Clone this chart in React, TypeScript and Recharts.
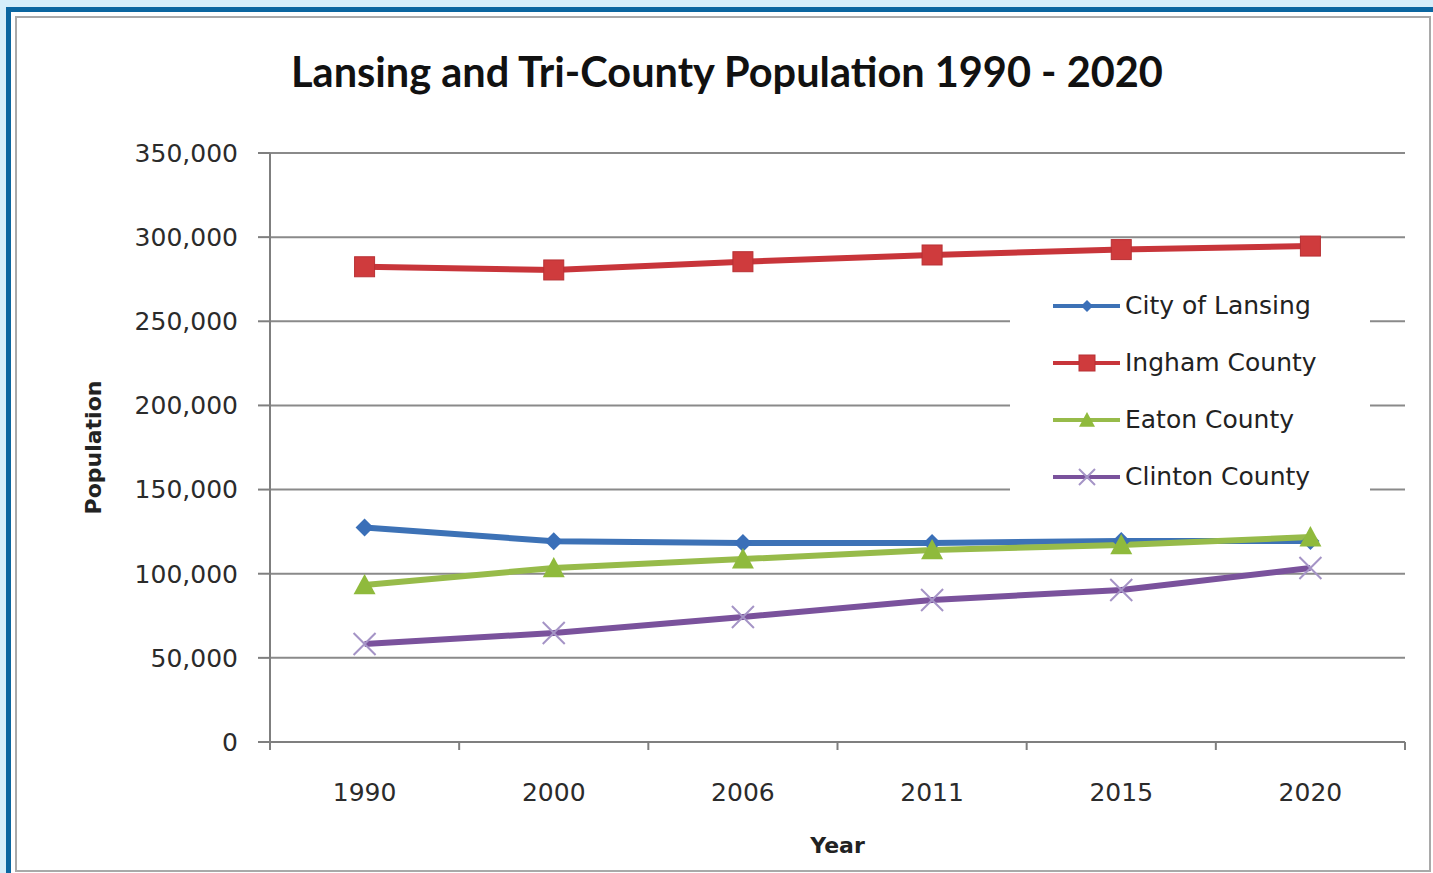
import { LineChart, Line, XAxis, YAxis, CartesianGrid, Legend } from 'recharts';

const years = ['1990', '2000', '2006', '2011', '2015', '2020'];
const cityOfLansing = [127500, 119300, 118300, 118300, 119500, 119500];
const inghamCounty = [282400, 280500, 285400, 289400, 292600, 294700];
const eatonCounty = [93300, 103400, 108700, 114100, 117100, 121800];
const clintonCounty = [58200, 64800, 74300, 84400, 90300, 103400];
const yTicks = [0, 50000, 100000, 150000, 200000, 250000, 300000, 350000];

const data = years.map((year, i) => ({
  year,
  lansing: cityOfLansing[i],
  ingham: inghamCounty[i],
  eaton: eatonCounty[i],
  clinton: clintonCounty[i],
}));

type Shape = 'diamond' | 'square' | 'triangle' | 'x';

const series: { key: string; name: string; color: string; markColor: string; shape: Shape }[] = [
  { key: 'lansing', name: 'City of Lansing', color: '#3d72b6', markColor: '#3a6fb8', shape: 'diamond' },
  { key: 'ingham', name: 'Ingham County', color: '#c8353a', markColor: '#cf3b3d', shape: 'square' },
  { key: 'eaton', name: 'Eaton County', color: '#97bb4a', markColor: '#8fba3c', shape: 'triangle' },
  { key: 'clinton', name: 'Clinton County', color: '#7a529c', markColor: '#a594c6', shape: 'x' },
];

const W = 1433;
const H = 873;
const FONT = '"DejaVu Sans", Verdana, sans-serif';
const X_TICK_SIZE = 8;
const X_TICK_MARGIN = 33;
const PLOT_LEFT = 270;
const PLOT_RIGHT = 28;
const HALF_BAND = (W - PLOT_LEFT - PLOT_RIGHT) / years.length / 2;

function Marker({ cx, cy, shape, color, s }: { cx?: number; cy?: number; shape: Shape; color: string; s: number }) {
  if (cx == null || cy == null) return null;
  if (shape === 'diamond') {
    return <path d={`M${cx},${cy - s}L${cx + s},${cy}L${cx},${cy + s}L${cx - s},${cy}Z`} fill={color} />;
  }
  if (shape === 'square') {
    return <rect x={cx - s} y={cy - s} width={s * 2} height={s * 2} fill={color} stroke="#b83034" strokeWidth={1} />;
  }
  if (shape === 'triangle') {
    return <path d={`M${cx},${cy - s}L${cx + s},${cy + s * 0.85}L${cx - s},${cy + s * 0.85}Z`} fill={color} />;
  }
  return (
    <path
      d={`M${cx - s},${cy - s}L${cx + s},${cy + s}M${cx + s},${cy - s}L${cx - s},${cy + s}`}
      stroke={color}
      strokeWidth={2}
      fill="none"
    />
  );
}

const plotSize: Record<Shape, number> = { diamond: 9, square: 10, triangle: 11, x: 11 };
const legendSize: Record<Shape, number> = { diamond: 6, square: 8, triangle: 8, x: 8 };

function XTick(props: any) {
  const { x, y, payload, index } = props;
  const top = y - X_TICK_MARGIN - X_TICK_SIZE;
  const last = index === years.length - 1;
  return (
    <g>
      <line x1={x - HALF_BAND} x2={x - HALF_BAND} y1={top} y2={top + X_TICK_SIZE} stroke="#7f7f7f" strokeWidth={2} />
      {last && (
        <line x1={x + HALF_BAND} x2={x + HALF_BAND} y1={top} y2={top + X_TICK_SIZE} stroke="#7f7f7f" strokeWidth={2} />
      )}
      <text x={x} y={y} dy="0.71em" textAnchor="middle" fill="#2b2b2b" fontSize={25} fontFamily={FONT}>
        {payload.value}
      </text>
    </g>
  );
}

function ChartLegend() {
  return (
    <div style={{ background: '#fff', paddingLeft: 43 }}>
      {series.map((s) => (
        <div key={s.key} style={{ height: 57, display: 'flex', alignItems: 'center' }}>
          <svg width={72} height={30} style={{ display: 'block' }}>
            <line x1={0} x2={67} y1={15} y2={15} stroke={s.color} strokeWidth={4} />
            <Marker cx={34} cy={15} shape={s.shape} color={s.markColor} s={legendSize[s.shape]} />
          </svg>
          <span style={{ fontFamily: FONT, fontSize: 25, color: '#222', whiteSpace: 'nowrap' }}>{s.name}</span>
        </div>
      ))}
    </div>
  );
}

export default function App() {
  return (
    <div style={{ position: 'absolute', left: 0, top: 0, width: W, height: H, background: '#d6eefa', overflow: 'hidden' }}>
      <div
        style={{
          position: 'absolute',
          left: 6,
          top: 7,
          width: W + 20,
          height: H + 20,
          background: '#fff',
          borderTop: '5px solid #0b66a0',
          borderLeft: '5px solid #0b66a0',
        }}
      />
      <div
        style={{
          position: 'absolute',
          left: 15,
          top: 16,
          width: 1416,
          height: 856,
          border: '2px solid #a9a9a9',
          boxSizing: 'border-box',
        }}
      />
      <div
        style={{
          position: 'absolute',
          left: 227,
          top: 51,
          width: 1000,
          textAlign: 'center',
          fontFamily: 'Lato, sans-serif',
          fontWeight: 700,
          fontSize: 41.5,
          lineHeight: '40px',
          color: '#111',
          whiteSpace: 'nowrap',
        }}
      >
        Lansing and Tri-County Population 1990 - 2020
      </div>
      <div style={{ position: 'absolute', left: 0, top: 0 }}>
        <LineChart width={W} height={H} data={data} margin={{ top: 153, right: PLOT_RIGHT, left: 70, bottom: 20 }}>
          <CartesianGrid vertical={false} stroke="#8a8a8a" strokeWidth={2} />
          <XAxis
            dataKey="year"
            scale="band"
            height={111}
            stroke="#7f7f7f"
            strokeWidth={2}
            tickLine={false}
            tickSize={X_TICK_SIZE}
            tickMargin={X_TICK_MARGIN}
            tick={<XTick />}
            interval={0}
            label={{ value: 'Year', position: 'center', dy: 48, fontFamily: FONT, fontWeight: 700, fontSize: 22, fill: '#222' }}
          />
          <YAxis
            width={200}
            domain={[0, 350000]}
            ticks={yTicks}
            interval={0}
            stroke="#7f7f7f"
            strokeWidth={2}
            tickSize={12}
            tickMargin={20}
            tick={{ fontFamily: FONT, fontSize: 25, fill: '#2b2b2b' }}
            tickFormatter={(v: number) => v.toLocaleString('en-US')}
            label={{ value: 'Population', angle: -90, position: 'center', dx: -77, fontFamily: FONT, fontWeight: 700, fontSize: 22, fill: '#222' }}
          />
          <Legend
            layout="vertical"
            align="center"
            verticalAlign="middle"
            wrapperStyle={{ left: 1010, top: 277, right: 'auto', bottom: 'auto', width: 360, margin: 0 }}
            content={() => <ChartLegend />}
          />
          {series.map((s) => (
            <Line
              key={s.key}
              dataKey={s.key}
              name={s.name}
              stroke={s.color}
              strokeWidth={6}
              isAnimationActive={false}
              dot={(p: any) => (
                <Marker key={`${s.key}-${p.index}`} cx={p.cx} cy={p.cy} shape={s.shape} color={s.markColor} s={plotSize[s.shape]} />
              )}
              activeDot={false}
            />
          ))}
        </LineChart>
      </div>
    </div>
  );
}
